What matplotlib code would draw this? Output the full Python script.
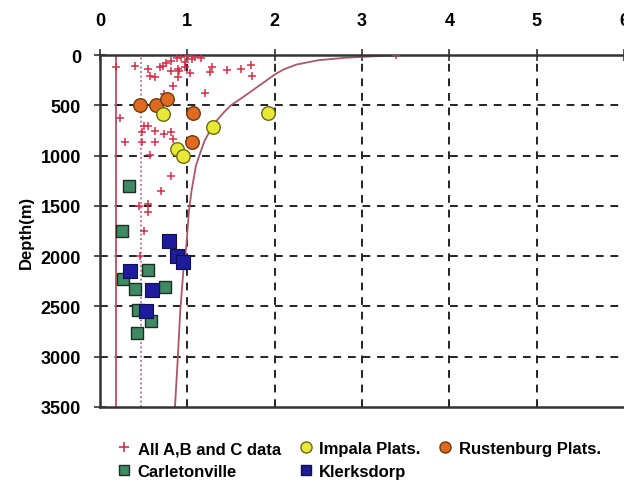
import matplotlib
matplotlib.use("Agg")
import matplotlib.pyplot as plt
from matplotlib.lines import Line2D

plt.rcParams['font.family'] = ['Liberation Sans Narrow', 'Liberation Sans', 'DejaVu Sans']
plt.rcParams['font.weight'] = 'bold'

# ---- data (x value vs depth in m) ----
all_x = [0.19, 0.40, 0.55, 0.57, 0.63, 0.69, 0.72, 0.76, 0.82, 0.88, 0.93, 1.01, 1.09, 1.16,
         0.89, 0.97, 0.89, 1.03, 0.84, 1.20, 1.28, 1.26, 1.45, 1.62, 1.73, 1.74, 0.74, 0.82, 0.91,
         0.23, 0.29, 0.48, 0.55, 0.63, 0.74, 0.82, 0.84, 0.57, 0.70, 0.82, 0.48, 0.50, 0.63,
         0.55, 0.55, 0.51, 0.46, 0.45, 0.97, 3.39, 1.05, 0.98]
all_d = [123, 106, 139, 206, 222, 123, 106, 83, 56, 30, 17, 5, 23, 30,
         139, 116, 222, 182, 305, 381, 123, 172, 149, 139, 99, 206, 388, 156, 156,
         630, 865, 868, 703, 860, 785, 769, 835, 997, 1355, 1208, 769, 703, 752,
         1481, 1564, 1746, 2000, 1498, 2090, 0, 40, 70]

impala_x = [0.72, 1.29, 1.93, 0.88, 0.95]
impala_d = [585, 719, 577, 938, 1005]

rust_x = [0.46, 0.64, 0.77, 1.07, 1.05]
rust_d = [497, 497, 437, 577, 868]

carl_x = [0.33, 0.255, 0.55, 0.27, 0.40, 0.75, 0.44, 0.58, 0.43]
carl_d = [1307, 1746, 2134, 2226, 2326, 2310, 2532, 2648, 2763]

klerk_x = [0.79, 0.88, 0.95, 0.35, 0.60, 0.53]
klerk_d = [1846, 1995, 2061, 2150, 2333, 2548]

curve_x = [3.40, 3.15, 2.80, 2.50, 2.25, 2.10, 2.00, 1.88, 1.75, 1.62, 1.50, 1.42, 1.33, 1.27,
           1.20, 1.15, 1.10, 1.05, 1.02, 0.99, 0.96, 0.92, 0.89, 0.86]
curve_d = [3, 12, 28, 52, 95, 145, 195, 270, 350, 430, 500, 570, 660, 740,
           850, 970, 1100, 1350, 1550, 1900, 2100, 2550, 3050, 3500]

solid_line_x = 0.19
dotted_line_x = 0.47

x_ticks = [0, 1, 2, 3, 4, 5, 6]
y_ticks = [0, 500, 1000, 1500, 2000, 2500, 3000, 3500]

fig = plt.figure(figsize=(6.24, 4.85), dpi=100)
ax = fig.add_axes([0.160, 0.1588, 0.840, 0.7257])

ax.set_xlim(0, 6)
ax.set_ylim(3500, 0)

# grid
for xv in x_ticks[1:-1]:
    ax.axvline(xv, color='#222222', ls=(0, (4, 3.5)), lw=1.4, zorder=1)
for yv in y_ticks[1:-1]:
    ax.axhline(yv, color='#222222', ls=(0, (4, 3.5)), lw=1.4, zorder=1)

ax.axvline(solid_line_x, color='#b5505e', lw=1.3, zorder=2)
ax.axvline(dotted_line_x, color='#b07080', lw=1.3, ls=(0, (1, 1.5)), zorder=2)
ax.plot(curve_x, curve_d, color='#a85868', lw=1.3, zorder=2)

ax.scatter(all_x, all_d, marker='+', s=35, color='#d0304a', linewidths=1.1, zorder=3)
ax.scatter(rust_x, rust_d, marker='o', s=95, color='#e06a20', edgecolors='#6a3a10', linewidths=1.0, zorder=4)
ax.scatter(impala_x, impala_d, marker='o', s=95, color='#e8e838', edgecolors='#6a6a10', linewidths=1.0, zorder=4)
ax.scatter(carl_x, carl_d, marker='s', s=75, color='#3f8a62', edgecolors='#1e2e22', linewidths=1.0, zorder=4)
ax.scatter(klerk_x, klerk_d, marker='s', s=90, color='#1c1c9c', edgecolors='#10104a', linewidths=0.8, zorder=5)

ax.xaxis.tick_top()
ax.set_xticks(x_ticks)
ax.set_yticks(y_ticks)
ax.tick_params(axis='both', direction='inout', length=9, width=1.2, color='#333333',
               labelsize=13, pad=9)
ax.tick_params(axis='x', pad=14)
for lab in ax.get_xticklabels() + ax.get_yticklabels():
    lab.set_fontweight('bold')

for side in ['top', 'left', 'bottom']:
    ax.spines[side].set_color('#333333')
    ax.spines[side].set_linewidth(1.8)
ax.spines['right'].set_visible(False)

ax.set_ylabel('Depth(m)', fontsize=12, fontweight='bold', labelpad=5)

handles = [
    Line2D([], [], marker='+', ls='none', color='#d0304a', markersize=7, mew=1.2, label='All A,B and C data'),
    Line2D([], [], marker='s', ls='none', color='#3f8a62', mec='#1e2e22', markersize=7, label='Carletonville'),
    Line2D([], [], marker='o', ls='none', color='#e8e838', mec='#6a6a10', markersize=8, label='Impala Plats.'),
    Line2D([], [], marker='s', ls='none', color='#1c1c9c', mec='#10104a', markersize=7, label='Klerksdorp'),
    Line2D([], [], marker='o', ls='none', color='#e06a20', mec='#6a3a10', markersize=8, label='Rustenburg Plats.'),
]
fig.legend(handles=handles, ncol=3, loc='upper left', bbox_to_anchor=(0.175, 0.102),
           frameon=False, prop={'size': 12, 'weight': 'bold'}, handletextpad=0.3,
           columnspacing=1.0, labelspacing=0.45, handlelength=1.0, borderaxespad=0)

fig.savefig('out.png', dpi=100)
